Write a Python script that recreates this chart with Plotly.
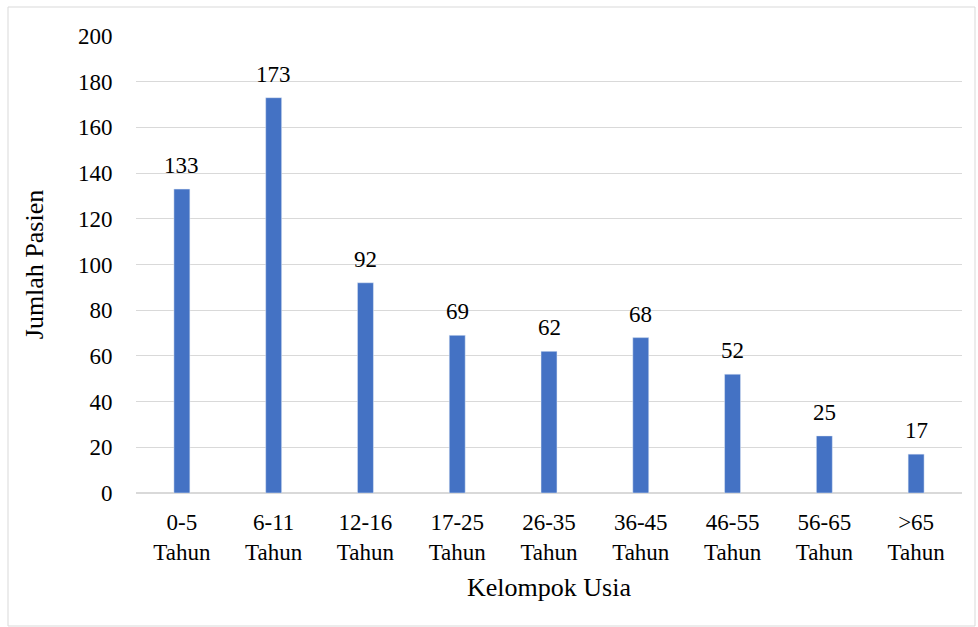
import plotly.graph_objects as go

categories = ["0-5<br>Tahun", "6-11<br>Tahun", "12-16<br>Tahun", "17-25<br>Tahun", "26-35<br>Tahun",
              "36-45<br>Tahun", "46-55<br>Tahun", "56-65<br>Tahun", ">65<br>Tahun"]
values = [133, 173, 92, 69, 62, 68, 52, 25, 17]
y_ticks = [0, 20, 40, 60, 80, 100, 120, 140, 160, 180, 200]

FONT = "Liberation Serif"
L, R, T, B = 136, 16, 36, 134
W, H = 978, 627
pw, ph = W - L - R, H - T - B

fig = go.Figure(go.Bar(
    x=categories, y=values, marker_color="#4472C4",
))

annotations = [
    dict(x=c, y=v, xref="x", yref="y", text=str(v), showarrow=False,
         yanchor="bottom", yshift=9,
         font=dict(family=FONT, size=23, color="#000000"))
    for c, v in zip(categories, values)
]

fig.update_layout(
    width=W, height=H,
    margin=dict(l=L, r=R, t=T, b=B, pad=0),
    paper_bgcolor="white", plot_bgcolor="white",
    bargap=0.826, showlegend=False,
    font=dict(family=FONT, color="#000000"),
    annotations=annotations,
    xaxis=dict(
        tickfont=dict(family=FONT, size=23, color="#000000"),
        ticks="outside", ticklen=8, tickcolor="rgba(0,0,0,0)",
        showgrid=False, showline=False,
        title=dict(text="Kelompok Usia", font=dict(family=FONT, size=26, color="#000000"), standoff=14),
    ),
    yaxis=dict(
        range=[0, 200], tickvals=y_ticks,
        tickfont=dict(family=FONT, size=23, color="#000000"),
        ticks="outside", ticklen=18, tickcolor="rgba(0,0,0,0)",
        showgrid=True, gridcolor="#d9d9d9", gridwidth=1,
        zeroline=True, zerolinecolor="#d9d9d9", zerolinewidth=1.5,
        showline=False,
        title=dict(text="Jumlah Pasien", font=dict(family=FONT, size=26, color="#000000"), standoff=26),
    ),
    shapes=[dict(
        type="rect", xref="paper", yref="paper",
        x0=(8 - L) / pw, x1=(975 - L) / pw,
        y0=(H - B - 626) / ph, y1=(H - B - 7) / ph,
        line=dict(color="#d9d9d9", width=1), fillcolor="rgba(0,0,0,0)", layer="below",
    )],
)

fig.write_html("out.html")
